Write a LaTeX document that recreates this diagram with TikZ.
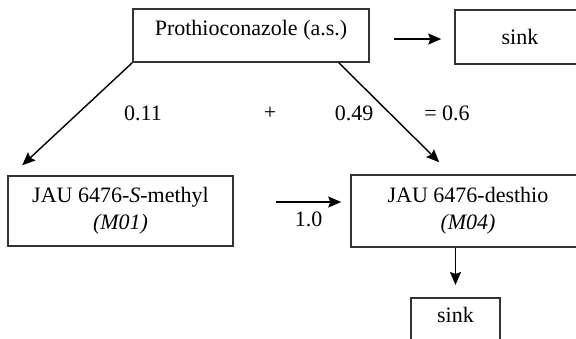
\documentclass[tikz,border=0pt]{standalone}
\usepackage{fontspec}
\setmainfont{Liberation Serif}
\usetikzlibrary{arrows.meta}
\begin{document}
\begin{tikzpicture}[x=1pt,y=-1pt,
  box/.style={draw=black!80, line width=1.5pt, inner sep=0pt, align=center,
    font=\fontsize{22}{27}\selectfont},
  lbl/.style={font=\fontsize{22}{27}\selectfont, inner sep=1pt},
  arr/.style={line width=1.4pt, -{Stealth[length=13pt,width=11pt,inset=2pt]}}]
\useasboundingbox (0,0) rectangle (576,338);
\clip (0,0) rectangle (576,338);
\node[box, minimum width=236pt, minimum height=53pt, text height=15pt, text depth=15pt] (p) at (251,35.5) {Prothioconazole (a.s.)};
\node[box, minimum width=130pt, minimum height=54pt] (sink1) at (520,37) {sink};
\node[box, minimum width=225pt, minimum height=70pt] (m01) at (120.5,211) {JAU 6476-\textit{S}-methyl\\\textit{(M01)}};
\node[box, minimum width=234pt, minimum height=72pt] (m04) at (468,211) {JAU 6476-desthio\\\textit{(M04)}};
\node[box, anchor=north, minimum width=89pt, inner sep=3pt, text height=22pt, text depth=22pt] (sink2) at (455.5,297) {sink};
\node[lbl] (k1) at (143,113) {0.11};
\node[lbl] (plus) at (270,113) {+};
\node[lbl] (k2) at (354,113) {0.49};
\node[lbl] (sum) at (447,113) {= 0.6};
\draw[arr] ([xshift=-60pt,yshift=-2pt]sink1.west) -- ([xshift=-13pt,yshift=-2pt]sink1.west);
\draw[arr] (p.south west) -- ([xshift=15pt,yshift=10pt]m01.north west);
\draw[arr] ([xshift=-31pt]p.south east) -- ([xshift=89pt,yshift=12pt]m04.north west);
\draw[arr] ([xshift=42pt,yshift=9pt]m01.east) -- node[lbl, below=8pt] (k3) {1.0} ([xshift=-9pt,yshift=9pt]m04.west);
\draw[arr] (sink2.north |- m04.south) -- ([yshift=12pt]sink2.north);
\end{tikzpicture}
\end{document}
